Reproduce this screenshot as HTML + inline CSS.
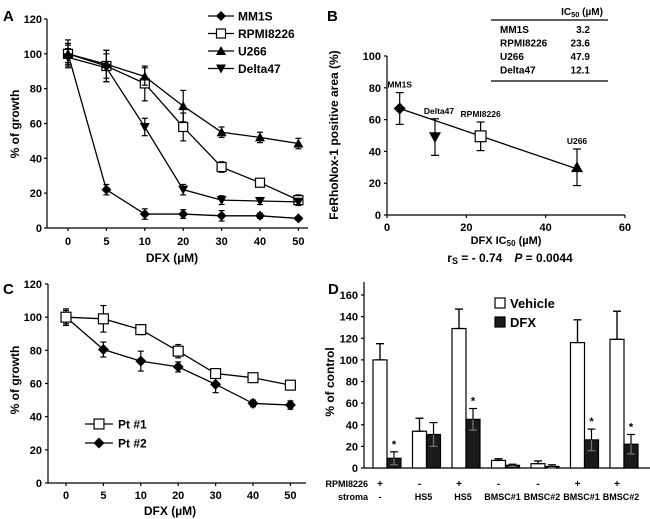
<!DOCTYPE html>
<html><head><meta charset="utf-8"><style>
html,body{margin:0;padding:0;background:#fff}
svg{display:block;font-family:"Liberation Sans",Arial,sans-serif;font-weight:bold}
</style></head><body>
<svg id="fig" width="650" height="519" viewBox="0 0 650 519" xmlns="http://www.w3.org/2000/svg">
<g id="gA"></g>
<g id="gB"></g>
<g id="gC"></g>
<g id="gD"></g>
</svg>
<script>
// ---- Panel A data ----
const doseCats = ["0","5","10","20","30","40","50"];
const aMM1S = [100,22,8,8,7,7,5.5];
const aMM1SErr = [6,3,3,2.5,3,1.5,1];
const aRPMI = [100,93,83,58,35,26,16];
const aRPMIErr = [5,9,10,8,3,2,3];
const aU266 = [100,94,87,70,55,52,48.5];
const aU266Err = [8,8,5,9,3,3,3];
const aDelta = [98,92,58,22,16,15.5,15];
const aDeltaErr = [5,8,5,3,2.5,2,2];
const aTicks = [0,20,40,60,80,100,120];
// ---- Panel B data ----
const bNames = ["MM1S","Delta47","RPMI8226","U266"];
const bIC50 = [3.2,12.1,23.6,47.9];
const bArea = [67,49,49.5,30];
const bErr = [10,11.5,9,11.5];
const bXTicks = [0,20,40,60];
const bYTicks = [0,20,40,60,80,100];
const bFit = [[3.2,67],[47.9,29]];
const tblNames = ["MM1S","RPMI8226","U266","Delta47"];
const tblVals = ["3.2","23.6","47.9","12.1"];
// ---- Panel C data ----
const cPt1 = [100,99,92.5,79.5,66,63.5,59];
const cPt1Err = [5,8,3,4,2,2,2];
const cPt2 = [100,80.5,73.5,70,59.5,48,47];
const cPt2Err = [4,4.5,6,3,5,2,2.5];
// ---- Panel D data ----
const dRPMI = ["+","-","+","-","-","+","+"];
const dStroma = ["-","HS5","HS5","BMSC#1","BMSC#2","BMSC#1","BMSC#2"];
const dVeh = [100,34,129,7,4,116,119];
const dVehErr = [15,12,18,1.5,2.5,21,26];
const dDFX = [9,31,45,2.5,1.5,26,22];
const dDFXErr = [6,11,10,1,1.5,10,9];
const dStar = [true,false,true,false,false,true,true];
const dTicks = [0,20,40,60,80,100,120,140,160];

const NS="http://www.w3.org/2000/svg";
function mk(parent,tag,attrs,text){
  const e=document.createElementNS(NS,tag);
  for(const k in attrs) e.setAttribute(k,attrs[k]);
  if(text!==undefined) e.textContent=text;
  parent.appendChild(e); return e;
}
function txt(p,x,y,s,size,anchor,name){
  const t=mk(p,'text',{x:x,y:y,'font-size':size,'text-anchor':anchor||'middle'},s);
  
  
  return t;
}
function line(p,x1,y1,x2,y2,w,name){
  const l=mk(p,'line',{x1:x1,y1:y1,x2:x2,y2:y2,stroke:'#000','stroke-width':w||1.2});
  
  
  return l;
}
function marker(p,type,x,y,s,name){
  let e;
  if(type==='diamond') e=mk(p,'polygon',{points:`${x},${y-s} ${x+s},${y} ${x},${y+s} ${x-s},${y}`,fill:'#000'});
  else if(type==='square') e=mk(p,'rect',{x:x-s*0.9,y:y-s*0.9,width:s*1.8,height:s*1.8,fill:'#fff',stroke:'#000','stroke-width':1.2});
  else if(type==='up') e=mk(p,'polygon',{points:`${x},${y-s} ${x+s},${y+s*0.8} ${x-s},${y+s*0.8}`,fill:'#000'});
  else e=mk(p,'polygon',{points:`${x},${y+s} ${x+s},${y-s*0.8} ${x-s},${y-s*0.8}`,fill:'#000'});
  
  
  return e;
}
function errbar(p,x,y1,y2,cap,name){
  const g=mk(p,'g',{});
  
  
  mk(g,'line',{x1:x,y1:y1,x2:x,y2:y2,stroke:'#000','stroke-width':1.2});
  mk(g,'line',{x1:x-cap,y1:y1,x2:x+cap,y2:y1,stroke:'#000','stroke-width':1.2});
  mk(g,'line',{x1:x-cap,y1:y2,x2:x+cap,y2:y2,stroke:'#000','stroke-width':1.2});
}
function ylab(p,x,y,s,name){
  const t=mk(p,'text',{x:0,y:0,'font-size':12,'text-anchor':'middle',transform:`translate(${x},${y}) rotate(-90)`},s);
  
  
}

// ===== Panel A =====
(function(){
  const g=document.getElementById('gA');
  const x0=68, dx=38.4;
  const X=i=>x0+i*dx;
  const Y=v=>228-v*(209/120);
  txt(g,3,21,'A',15,'start','panel-label-a');
  line(g,47,19,47,228,1.2,'y-axis');
  line(g,47,228,308,228,1.2,'x-axis');
  aTicks.forEach(t=>{line(g,44,Y(t),47,Y(t),1.2,'y-tick');txt(g,42,Y(t)+4,String(t),11,'end','y-tick-label');});
  doseCats.forEach((c,i)=>{line(g,X(i),228,X(i),231,1.2,'x-tick');txt(g,X(i),245,c,11,'middle','x-tick-label');});
  txt(g,172,262,'DFX (µM)',12,'middle','x-axis-title');
  ylab(g,19,124,'% of growth','y-axis-title');
  const series=[[aMM1S,aMM1SErr,'diamond','mm1s'],[aRPMI,aRPMIErr,'square','rpmi8226'],[aU266,aU266Err,'up','u266'],[aDelta,aDeltaErr,'down','delta47']];
  series.forEach(([v,e,m,n])=>{
    v.forEach((d,i)=>errbar(g,X(i),Y(d+e[i]),Y(d-e[i]),3,n+'-error'));
    const l=mk(g,'polyline',{points:v.map((d,i)=>X(i)+','+Y(d)).join(' '),fill:'none',stroke:'#000','stroke-width':1.3});
    
    
    v.forEach((d,i)=>marker(g,m,X(i),Y(d),5,n+'-point'));
  });
  const legN=['MM1S','RPMI8226','U266','Delta47'], legM=['diamond','square','up','down'];
  legN.forEach((n,i)=>{
    const y=16+i*17.5;
    line(g,208,y,234,y,1.3,'legend-line');
    marker(g,legM[i],221,y,5,'legend-marker');
    txt(g,238,y+4.5,n,12,'start','legend-entry');
  });
})();

// ===== Panel B =====
(function(){
  const g=document.getElementById('gB');
  const X=v=>387+v*(238/60);
  const Y=v=>215-v*(159/100);
  txt(g,327,21,'B',15,'start','panel-label-b');
  line(g,387,56,387,215,1.2,'y-axis');
  line(g,387,215,625,215,1.2,'x-axis');
  bYTicks.forEach(t=>{line(g,384,Y(t),387,Y(t),1.2,'y-tick');txt(g,381,Y(t)+4,String(t),11,'end','y-tick-label');});
  bXTicks.forEach(t=>{line(g,X(t),215,X(t),218,1.2,'x-tick');txt(g,X(t),231,String(t),11,'middle','x-tick-label');});
  const xt=mk(g,'text',{x:506,y:244,'font-size':11,'text-anchor':'middle'});
  
  
  xt.innerHTML='DFX IC<tspan font-size="8" dy="2">50</tspan><tspan dy="-2"> (µM)</tspan>';
  const rs=mk(g,'text',{x:510,y:262,'font-size':12,'text-anchor':'middle'});
  
  
  rs.innerHTML='r<tspan font-size="9" dy="2">S</tspan><tspan dy="-2"> = - 0.74</tspan><tspan dx="12" font-style="italic">P</tspan><tspan> = 0.0044</tspan>';
  ylab(g,338,135,'FeRhoNox-1 positive area (%)','y-axis-title');
  line(g,X(bFit[0][0]),Y(bFit[0][1]),X(bFit[1][0]),Y(bFit[1][1]),1.3,'regression-line');
  const mks=['diamond','down','square','up'];
  bIC50.forEach((v,i)=>{
    errbar(g,X(v),Y(bArea[i]+bErr[i]),Y(bArea[i]-bErr[i]),4,'point-error');
    marker(g,mks[i],X(v),Y(bArea[i]),6,'point-'+bNames[i].toLowerCase());
    txt(g,X(v)+(i===1?4:0),Y(bArea[i]+bErr[i])-5,bNames[i],8.5,'middle','point-label');
  });
  const ic=mk(g,'text',{x:582,y:15,'font-size':10,'text-anchor':'middle'});
  
  
  ic.innerHTML='IC<tspan font-size="7.5" dy="2">50</tspan><tspan dy="-2"> (µM)</tspan>';
  line(g,491,20,608,20,1.2,'table-top-rule');
  line(g,491,81,608,81,1.2,'table-bottom-rule');
  tblNames.forEach((n,i)=>{
    const y=33+i*13.5;
    txt(g,500,y,n,10,'start','table-cell-name');
    txt(g,590,y,tblVals[i],10,'end','table-cell-value');
  });
})();

// ===== Panel C =====
(function(){
  const g=document.getElementById('gC');
  const x0=66, dx=37.4;
  const X=i=>x0+i*dx;
  const Y=v=>483-v*(199/120);
  txt(g,3,294,'C',15,'start','panel-label-c');
  line(g,48,284,48,483,1.2,'y-axis');
  line(g,48,483,306,483,1.2,'x-axis');
  aTicks.forEach(t=>{line(g,45,Y(t),48,Y(t),1.2,'y-tick');txt(g,42,Y(t)+4,String(t),11,'end','y-tick-label');});
  doseCats.forEach((c,i)=>{line(g,X(i),483,X(i),486,1.2,'x-tick');txt(g,X(i),499,c,11,'middle','x-tick-label');});
  txt(g,170,515,'DFX (µM)',12,'middle','x-axis-title');
  ylab(g,19,380,'% of growth','y-axis-title');
  [[cPt2,cPt2Err,'diamond','pt2'],[cPt1,cPt1Err,'square','pt1']].forEach(([v,e,m,n])=>{
    v.forEach((d,i)=>errbar(g,X(i),Y(d+e[i]),Y(d-e[i]),3,n+'-error'));
    const l=mk(g,'polyline',{points:v.map((d,i)=>X(i)+','+Y(d)).join(' '),fill:'none',stroke:'#000','stroke-width':1.3});
    
    
    v.forEach((d,i)=>marker(g,m,X(i),Y(d),5.5,n+'-point'));
  });
  [['Pt #1','square'],['Pt #2','diamond']].forEach(([n,m],i)=>{
    const y=424+i*19;
    line(g,85,y,113,y,1.3,'legend-line');
    marker(g,m,99,y,5.5,'legend-marker');
    txt(g,118,y+4.5,n,12,'start','legend-entry');
  });
})();

// ===== Panel D =====
(function(){
  const g=document.getElementById('gD');
  const c0=387, dc=39.5, bw=14;
  const X=i=>c0+i*dc;
  const Y=v=>468-v*(173/160);
  txt(g,328,294,'D',15,'start','panel-label-d');
  line(g,364,282,364,468,1.2,'y-axis');
  line(g,364,468,650,468,1.2,'x-axis');
  dTicks.forEach(t=>{line(g,361,Y(t),364,Y(t),1.2,'y-tick');txt(g,358,Y(t)+4,String(t),11,'end','y-tick-label');});
  ylab(g,334,382,'% of control','y-axis-title');
  dVeh.forEach((v,i)=>{
    const vx=X(i)-bw, dxp=X(i);
    errbar(g,vx+bw/2,Y(v+dVehErr[i]),Y(Math.max(0,v-dVehErr[i])),4,'vehicle-error');
    const r1=mk(g,'rect',{x:vx,y:Y(v),width:bw,height:468-Y(v),fill:'#fff',stroke:'#000','stroke-width':1.2});
    
    
    errbar(g,vx+bw/2,Y(v),Y(v+dVehErr[i]),4,'vehicle-error-top');
    const d=dDFX[i];
    const r2=mk(g,'rect',{x:dxp,y:Y(d),width:bw,height:468-Y(d),fill:'#1a1a1a',stroke:'#000','stroke-width':1.2});
    
    
    const eg=mk(g,'g',{});
    
    
    const ex=dxp+bw/2, y1=Y(d+dDFXErr[i]), y2=Y(Math.max(0,d-dDFXErr[i]));
    mk(eg,'line',{x1:ex,y1:y1,x2:ex,y2:Y(d),stroke:'#000','stroke-width':1.2});
    mk(eg,'line',{x1:ex,y1:Y(d),x2:ex,y2:y2,stroke:'#777','stroke-width':1.2});
    mk(eg,'line',{x1:ex-4,y1:y1,x2:ex+4,y2:y1,stroke:'#000','stroke-width':1.2});
    mk(eg,'line',{x1:ex-4,y1:y2,x2:ex+4,y2:y2,stroke:'#777','stroke-width':1.2});
    if(dStar[i]) txt(g,ex,y1-4,'*',11,'middle','significance-star');
    txt(g,vx+bw/2,487,dRPMI[i],10,'middle','rpmi8226-label');
    txt(g,vx+bw/2+ (i===0?0:4),500,dStroma[i],9,'middle','stroma-label');
  });
  txt(g,368,487,'RPMI8226',9,'end','rpmi8226-row-title');
  txt(g,368,500,'stroma',9,'end','stroma-row-title');
  const lv=mk(g,'rect',{x:495,y:298,width:10,height:10,fill:'#fff',stroke:'#000','stroke-width':1.2});
  
  
  const ld=mk(g,'rect',{x:495,y:317,width:10,height:10,fill:'#1a1a1a',stroke:'#000','stroke-width':1.2});
  
  
  txt(g,510,308,'Vehicle',13,'start','legend-entry-vehicle');
  txt(g,510,327,'DFX',13,'start','legend-entry-dfx');
})();
</script>
</body></html>
